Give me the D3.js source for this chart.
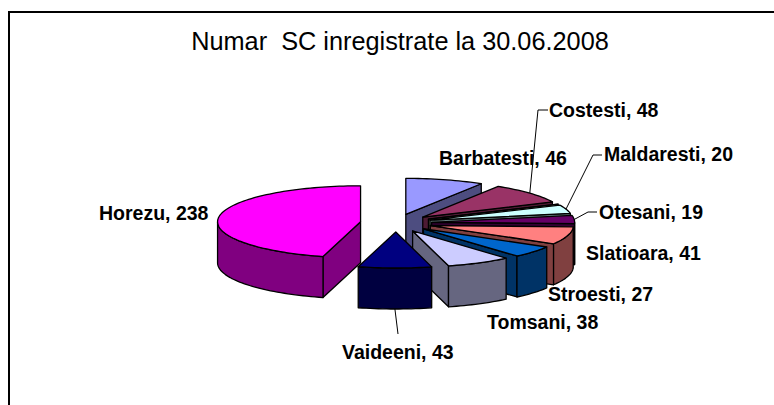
<!DOCTYPE html>
<html>
<head>
<meta charset="utf-8">
<script src="https://cdn.jsdelivr.net/npm/d3@7"></script>
<style>
  html, body { margin: 0; padding: 0; background: #fff; }
  svg { display: block; }
  text { font-family: "Liberation Sans", Arial, sans-serif; white-space: pre; }
</style>
</head>
<body>
<div id="chart"></div>
<script>
// date (felia fara nume e cea crem, foarte subtire)
const titleText = "Numar  SC inregistrate la 30.06.2008";
const categories = ["Barbatesti", "Costesti", "", "Maldaresti", "Otesani", "Slatioara", "Stroesti", "Tomsani", "Vaideeni", "Horezu"];
const values = [46, 48, 0, 20, 19, 41, 27, 38, 43, 238];
const topColors = ["#9999FF", "#993366", "#FFFFCC", "#CCFFFF", "#660066", "#FF8080", "#0066CC", "#CCCCFF", "#000080", "#FF00FF"];
const sideColors = ["#4D4D80", "#4D1A33", "#808066", "#668080", "#330033", "#804040", "#003366", "#666680", "#000040", "#800080"];

// pozitia etichetelor: x, baseline; leader = cotul liniei de legatura
const labelLayout = [
  { x: 439, y: 165 },
  { x: 549, y: 117, elbow: [[538, 110], [548, 110]] },
  null,
  { x: 604, y: 161, elbow: [[593, 155], [602, 155]] },
  { x: 599, y: 219, elbow: [[588, 212], [597, 212]] },
  { x: 586, y: 260 },
  { x: 548, y: 301 },
  { x: 487, y: 329 },
  { x: 342, y: 359, elbow: [[398, 334]] },
  { x: 99, y: 220 }
];

const width = 774, height = 405;
const center = { x: 396, y: 223 };
const rx = 143, ry = 36, depth = 41, explode = 0.25;

const svg = d3.select("#chart").append("svg")
  .attr("width", width)
  .attr("height", height);

// chenarul (doar stanga si sus se vad in imagine)
svg.append("path")
  .attr("d", `M9 ${height}V12H${width}`)
  .attr("fill", "none")
  .attr("stroke", "#000")
  .attr("stroke-width", 2);

svg.append("text")
  .attr("x", 400)
  .attr("y", 50)
  .attr("text-anchor", "middle")
  .style("font-size", "25.3px")
  .text(titleText);

// unghiuri cu d3.pie, in sensul acelor de ceasornic de la ora 12
const slices = d3.pie().sort(null).startAngle(0).endAngle(2 * Math.PI)(values);

const project = (a, r, apex) => [apex.x + Math.sin(a) * r * rx, apex.y - Math.cos(a) * r * ry];
const lineGen = d3.line();

const arcPoints = (a0, a1, apex) => {
  const n = Math.max(2, Math.ceil((a1 - a0) / 0.03));
  return d3.range(n + 1).map(i => project(a0 + (a1 - a0) * i / n, 1, apex));
};

const down = pts => pts.map(p => [p[0], p[1] + depth]);

const g = svg.append("g");

slices.forEach((s, i) => {
  const mid = (s.startAngle + s.endAngle) / 2;
  const apex = {
    x: center.x + Math.sin(mid) * explode * rx,
    y: center.y - Math.cos(mid) * explode * ry
  };
  const sg = g.append("g");
  const drawFace = (pts, fill) => sg.append("path")
    .attr("d", lineGen(pts) + "Z")
    .attr("fill", fill)
    .attr("stroke", "#000")
    .attr("stroke-width", 1.3)
    .attr("stroke-linejoin", "round");

  // peretii radiali vizibili
  if (Math.sin(s.startAngle) < -1e-6) {
    const edge = [[apex.x, apex.y], project(s.startAngle, 1, apex)];
    drawFace(edge.concat(down(edge).reverse()), sideColors[i]);
  }
  if (Math.sin(s.endAngle) > 1e-6) {
    const edge = [[apex.x, apex.y], project(s.endAngle, 1, apex)];
    drawFace(edge.concat(down(edge).reverse()), sideColors[i]);
  }
  // peretele exterior, doar partea din fata
  const a0 = Math.max(s.startAngle, Math.PI / 2);
  const a1 = Math.min(s.endAngle, 3 * Math.PI / 2);
  if (a1 > a0) {
    const rim = arcPoints(a0, a1, apex);
    drawFace(rim.concat(down(rim).reverse()), sideColors[i]);
  }
  // fata de sus
  drawFace([[apex.x, apex.y]].concat(arcPoints(s.startAngle, s.endAngle, apex)), topColors[i]);
});

// linii de legatura si etichete
slices.forEach((s, i) => {
  const pos = labelLayout[i];
  if (!pos) return;
  const mid = (s.startAngle + s.endAngle) / 2;
  if (pos.elbow) {
    const apex = {
      x: center.x + Math.sin(mid) * explode * rx,
      y: center.y - Math.cos(mid) * explode * ry
    };
    let start = project(mid, 1, apex);
    if (Math.cos(mid) < 0) start = [start[0], start[1] + depth];
    svg.append("path")
      .attr("d", lineGen([start].concat(pos.elbow)))
      .attr("fill", "none")
      .attr("stroke", "#000")
      .attr("stroke-width", 1);
  }
  svg.append("text")
    .attr("x", pos.x)
    .attr("y", pos.y)
    .style("font-size", "19.5px")
    .style("font-weight", "bold")
    .text(`${categories[i]}, ${values[i]}`);
});
</script>
</body>
</html>
